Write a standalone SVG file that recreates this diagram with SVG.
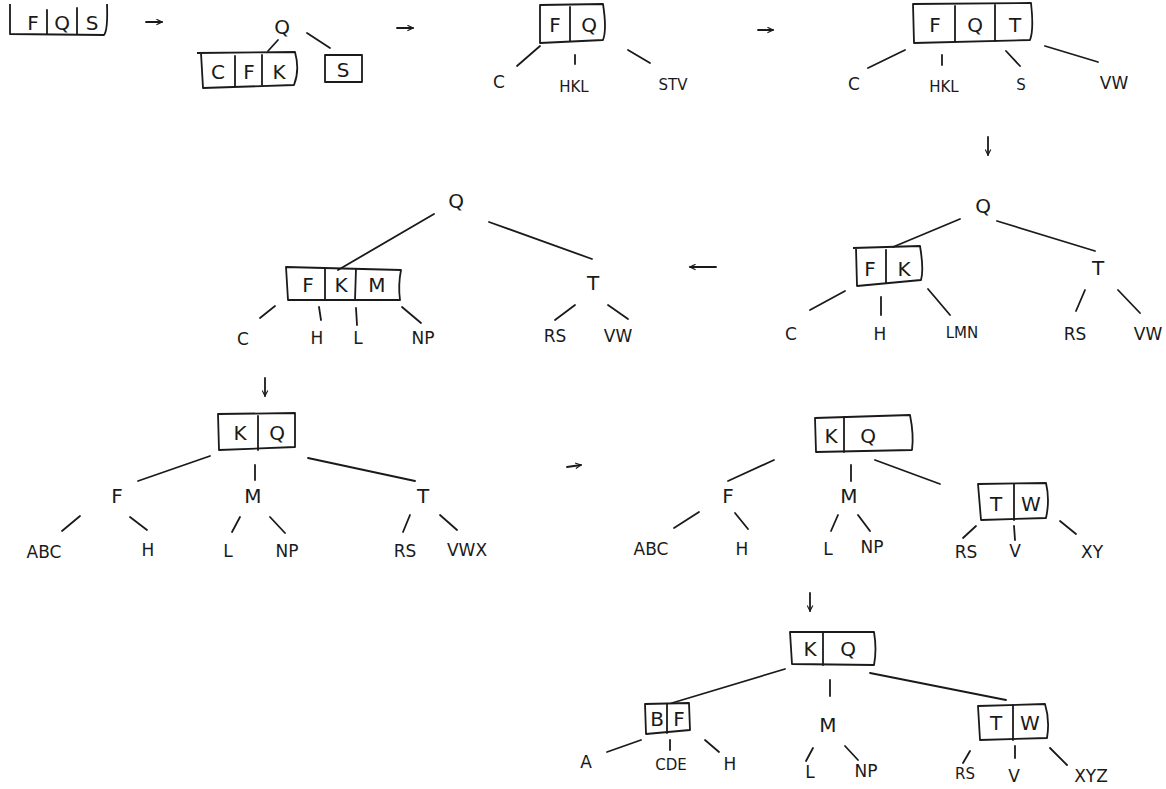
<svg xmlns="http://www.w3.org/2000/svg" width="1166" height="789" viewBox="0 0 1166 789">
<style>
.bx{fill:none;stroke:#1a1a1a;stroke-width:1.8;stroke-linejoin:round}
.ln{fill:none;stroke:#1a1a1a;stroke-width:1.8;stroke-linecap:round}
.k{font-family:"DejaVu Sans",sans-serif;font-size:20px;fill:#1a1a1a;text-anchor:middle}
.lf{font-family:"DejaVu Sans",sans-serif;font-size:17px;fill:#1a1a1a;text-anchor:middle}
.sm{font-family:"DejaVu Sans",sans-serif;font-size:15px;fill:#1a1a1a;text-anchor:middle}
</style>
<defs>
<marker id="ah" viewBox="0 0 10 10" refX="9" refY="5" markerWidth="7" markerHeight="7" orient="auto" markerUnits="userSpaceOnUse">
<path d="M1,1 L9,5 L1,9" fill="none" stroke="#1a1a1a" stroke-width="1.6"/>
</marker>
</defs>
<rect width="1166" height="789" fill="#ffffff"/>

<!-- step arrows -->
<g id="arrows">
<line class="ln" x1="146" y1="22" x2="162" y2="22" marker-end="url(#ah)"/>
<line class="ln" x1="397" y1="28" x2="413" y2="28" marker-end="url(#ah)"/>
<line class="ln" x1="758" y1="30" x2="773" y2="30" marker-end="url(#ah)"/>
<line class="ln" x1="988" y1="137" x2="988" y2="155" marker-end="url(#ah)"/>
<line class="ln" x1="716" y1="267" x2="690" y2="267" marker-end="url(#ah)"/>
<line class="ln" x1="265" y1="378" x2="265" y2="396" marker-end="url(#ah)"/>
<line class="ln" x1="567" y1="467" x2="581" y2="465" marker-end="url(#ah)"/>
<line class="ln" x1="810" y1="593" x2="810" y2="611" marker-end="url(#ah)"/>
</g>

<!-- connectors -->
<g id="connectors">
<line class="ln" x1="278" y1="40" x2="268" y2="51"/>
<line class="ln" x1="307" y1="33" x2="330" y2="48"/>
<line class="ln" x1="540" y1="46" x2="517" y2="66"/>
<line class="ln" x1="575" y1="55" x2="575" y2="64"/>
<line class="ln" x1="628" y1="50" x2="650" y2="63"/>
<line class="ln" x1="905" y1="50" x2="868" y2="68"/>
<line class="ln" x1="942" y1="55" x2="942" y2="65"/>
<line class="ln" x1="1006" y1="51" x2="1020" y2="66"/>
<line class="ln" x1="1045" y1="46" x2="1098" y2="62"/>
<line class="ln" x1="960" y1="219" x2="893" y2="247"/>
<line class="ln" x1="997" y1="221" x2="1095" y2="251"/>
<line class="ln" x1="845" y1="291" x2="810" y2="310"/>
<line class="ln" x1="881" y1="297" x2="881" y2="315"/>
<line class="ln" x1="928" y1="289" x2="950" y2="315"/>
<line class="ln" x1="1085" y1="290" x2="1076" y2="311"/>
<line class="ln" x1="1118" y1="290" x2="1140" y2="313"/>
<line class="ln" x1="434" y1="214" x2="338" y2="270"/>
<line class="ln" x1="489" y1="222" x2="592" y2="259"/>
<line class="ln" x1="275" y1="306" x2="260" y2="318"/>
<line class="ln" x1="319" y1="307" x2="321" y2="320"/>
<line class="ln" x1="356" y1="308" x2="357" y2="325"/>
<line class="ln" x1="402" y1="307" x2="421" y2="323"/>
<line class="ln" x1="575" y1="305" x2="555" y2="320"/>
<line class="ln" x1="608" y1="305" x2="628" y2="319"/>
<line class="ln" x1="210" y1="456" x2="138" y2="481"/>
<line class="ln" x1="255" y1="465" x2="255" y2="480"/>
<line class="ln" x1="308" y1="458" x2="415" y2="481"/>
<line class="ln" x1="80" y1="516" x2="62" y2="531"/>
<line class="ln" x1="130" y1="517" x2="147" y2="530"/>
<line class="ln" x1="240" y1="517" x2="232" y2="532"/>
<line class="ln" x1="270" y1="517" x2="285" y2="533"/>
<line class="ln" x1="410" y1="515" x2="403" y2="532"/>
<line class="ln" x1="440" y1="515" x2="457" y2="530"/>
<line class="ln" x1="774" y1="460" x2="728" y2="481"/>
<line class="ln" x1="851" y1="465" x2="851" y2="481"/>
<line class="ln" x1="875" y1="460" x2="940" y2="484"/>
<line class="ln" x1="699" y1="512" x2="674" y2="528"/>
<line class="ln" x1="735" y1="513" x2="748" y2="529"/>
<line class="ln" x1="838" y1="515" x2="831" y2="531"/>
<line class="ln" x1="858" y1="515" x2="870" y2="531"/>
<line class="ln" x1="976" y1="526" x2="963" y2="538"/>
<line class="ln" x1="1014" y1="526" x2="1015" y2="540"/>
<line class="ln" x1="1060" y1="521" x2="1076" y2="534"/>
<line class="ln" x1="785" y1="669" x2="672" y2="703"/>
<line class="ln" x1="830" y1="680" x2="830" y2="696"/>
<line class="ln" x1="870" y1="673" x2="1006" y2="700"/>
<line class="ln" x1="641" y1="740" x2="607" y2="752"/>
<line class="ln" x1="670" y1="740" x2="670" y2="750"/>
<line class="ln" x1="705" y1="740" x2="719" y2="752"/>
<line class="ln" x1="813" y1="748" x2="806" y2="761"/>
<line class="ln" x1="845" y1="746" x2="858" y2="760"/>
<line class="ln" x1="970" y1="751" x2="963" y2="763"/>
<line class="ln" x1="1015" y1="746" x2="1015" y2="758"/>
<line class="ln" x1="1050" y1="748" x2="1067" y2="765"/>
</g>

<g id="p1-root">
<path class="bx" d="M10,4 L10,34 L104,35 Q108,30 107,4"/>
<line class="ln" x1="47" y1="10" x2="47" y2="34"/>
<line class="ln" x1="77" y1="8" x2="77" y2="34"/>
<text class="k" x="33" y="30">F</text><text class="k" x="62" y="30">Q</text><text class="k" x="92" y="30">S</text>
</g>

<g id="p2-root"><text class="k" x="282" y="34">Q</text></g>
<g id="p2-cfk">
<path class="bx" d="M197,53 L295,52 Q300,70 294,85 L203,88 L201,53"/>
<line class="ln" x1="235" y1="56" x2="235" y2="86"/>
<line class="ln" x1="262" y1="55" x2="262" y2="85"/>
<text class="k" x="218" y="79">C</text><text class="k" x="249" y="79">F</text><text class="k" x="279" y="79">K</text>
</g>
<g id="p2-s">
<rect class="bx" x="325" y="55" width="37" height="27"/>
<text class="k" x="343" y="77">S</text>
</g>

<g id="p3-root">
<path class="bx" d="M540,5 L603,4 Q607,30 603,40 L540,43 Z"/>
<line class="ln" x1="570" y1="7" x2="570" y2="41"/>
<text class="k" x="555" y="32">F</text><text class="k" x="589" y="32">Q</text>
</g>
<g id="p3-leaves">
<text class="lf" x="499" y="88">C</text>
<text class="sm" x="574" y="92">HKL</text>
<text class="sm" x="673" y="90">STV</text>
</g>

<g id="p4-root">
<path class="bx" d="M913,4 L1031,3 Q1034,30 1030,40 L914,43 Z"/>
<line class="ln" x1="955" y1="6" x2="955" y2="41"/>
<line class="ln" x1="995" y1="5" x2="995" y2="41"/>
<text class="k" x="935" y="32">F</text><text class="k" x="975" y="32">Q</text><text class="k" x="1015" y="32">T</text>
</g>
<g id="p4-leaves">
<text class="lf" x="854" y="90">C</text>
<text class="sm" x="944" y="92">HKL</text>
<text class="sm" x="1021" y="90">S</text>
<text class="lf" x="1114" y="89">VW</text>
</g>

<g id="p5-root"><text class="k" x="983" y="213">Q</text></g>
<g id="p5-fk">
<path class="bx" d="M853,248 L920,246 Q924,270 921,280 L857,286 L856,248"/>
<line class="ln" x1="886" y1="250" x2="886" y2="283"/>
<text class="k" x="870" y="276">F</text><text class="k" x="904" y="276">K</text>
</g>
<g id="p5-t"><text class="k" x="1098" y="275">T</text></g>
<g id="p5-leaves">
<text class="lf" x="791" y="340">C</text>
<text class="lf" x="880" y="340">H</text>
<text class="sm" x="962" y="338">LMN</text>
<text class="lf" x="1075" y="340">RS</text>
<text class="lf" x="1148" y="340">VW</text>
</g>

<g id="p6-root"><text class="k" x="456" y="208">Q</text></g>
<g id="p6-fkm">
<path class="bx" d="M286,267 L401,270 Q398,285 400,300 L288,300 Z"/>
<line class="ln" x1="325" y1="268" x2="325" y2="300"/>
<line class="ln" x1="356" y1="269" x2="355" y2="300"/>
<text class="k" x="308" y="292">F</text><text class="k" x="341" y="292">K</text><text class="k" x="377" y="292">M</text>
</g>
<g id="p6-t"><text class="k" x="593" y="290">T</text></g>
<g id="p6-leaves">
<text class="lf" x="243" y="345">C</text>
<text class="lf" x="317" y="344">H</text>
<text class="lf" x="358" y="344">L</text>
<text class="lf" x="423" y="344">NP</text>
<text class="lf" x="555" y="342">RS</text>
<text class="lf" x="618" y="342">VW</text>
</g>

<g id="p7-root">
<path class="bx" d="M218,414 L295,413 L295,447 L219,450 Z"/>
<line class="ln" x1="258" y1="416" x2="258" y2="450"/>
<text class="k" x="240" y="440">K</text><text class="k" x="277" y="440">Q</text>
</g>
<g id="p7-f"><text class="k" x="117" y="503">F</text></g>
<g id="p7-m"><text class="k" x="253" y="503">M</text></g>
<g id="p7-t"><text class="k" x="423" y="503">T</text></g>
<g id="p7-leaves">
<text class="lf" x="44" y="558">ABC</text>
<text class="lf" x="148" y="556">H</text>
<text class="lf" x="228" y="557">L</text>
<text class="lf" x="287" y="557">NP</text>
<text class="lf" x="405" y="557">RS</text>
<text class="lf" x="467" y="556">VWX</text>
</g>

<g id="p8-root">
<path class="bx" d="M815,418 L910,415 Q914,435 912,450 L816,452 Z"/>
<line class="ln" x1="844" y1="417" x2="844" y2="452"/>
<text class="k" x="831" y="443">K</text><text class="k" x="868" y="443">Q</text>
</g>
<g id="p8-f"><text class="k" x="728" y="503">F</text></g>
<g id="p8-m"><text class="k" x="849" y="503">M</text></g>
<g id="p8-tw">
<path class="bx" d="M978,484 L1046,483 Q1050,500 1046,518 L981,520 Z"/>
<line class="ln" x1="1014" y1="484" x2="1014" y2="520"/>
<text class="k" x="996" y="511">T</text><text class="k" x="1031" y="511">W</text>
</g>
<g id="p8-leaves">
<text class="lf" x="651" y="555">ABC</text>
<text class="lf" x="742" y="555">H</text>
<text class="lf" x="828" y="555">L</text>
<text class="lf" x="872" y="553">NP</text>
<text class="lf" x="966" y="558">RS</text>
<text class="lf" x="1015" y="557">V</text>
<text class="lf" x="1092" y="558">XY</text>
</g>

<g id="p9-root">
<path class="bx" d="M790,632 L874,632 Q877,650 874,665 L792,664 Z"/>
<line class="ln" x1="823" y1="633" x2="823" y2="665"/>
<text class="k" x="810" y="656">K</text><text class="k" x="848" y="656">Q</text>
</g>
<g id="p9-bf">
<path class="bx" d="M645,704 L689,703 L690,730 L646,734 Z"/>
<line class="ln" x1="667" y1="704" x2="667" y2="733"/>
<text class="k" x="657" y="726">B</text><text class="k" x="679" y="726">F</text>
</g>
<g id="p9-m"><text class="k" x="828" y="732">M</text></g>
<g id="p9-tw">
<path class="bx" d="M978,706 L1045,704 Q1050,720 1047,738 L980,740 Z"/>
<line class="ln" x1="1013" y1="705" x2="1013" y2="740"/>
<text class="k" x="996" y="730">T</text><text class="k" x="1030" y="730">W</text>
</g>
<g id="p9-leaves">
<text class="lf" x="586" y="768">A</text>
<text class="sm" x="671" y="770">CDE</text>
<text class="lf" x="730" y="770">H</text>
<text class="lf" x="810" y="778">L</text>
<text class="lf" x="866" y="777">NP</text>
<text class="sm" x="965" y="779">RS</text>
<text class="lf" x="1014" y="782">V</text>
<text class="lf" x="1091" y="782">XYZ</text>
</g>
</svg>
